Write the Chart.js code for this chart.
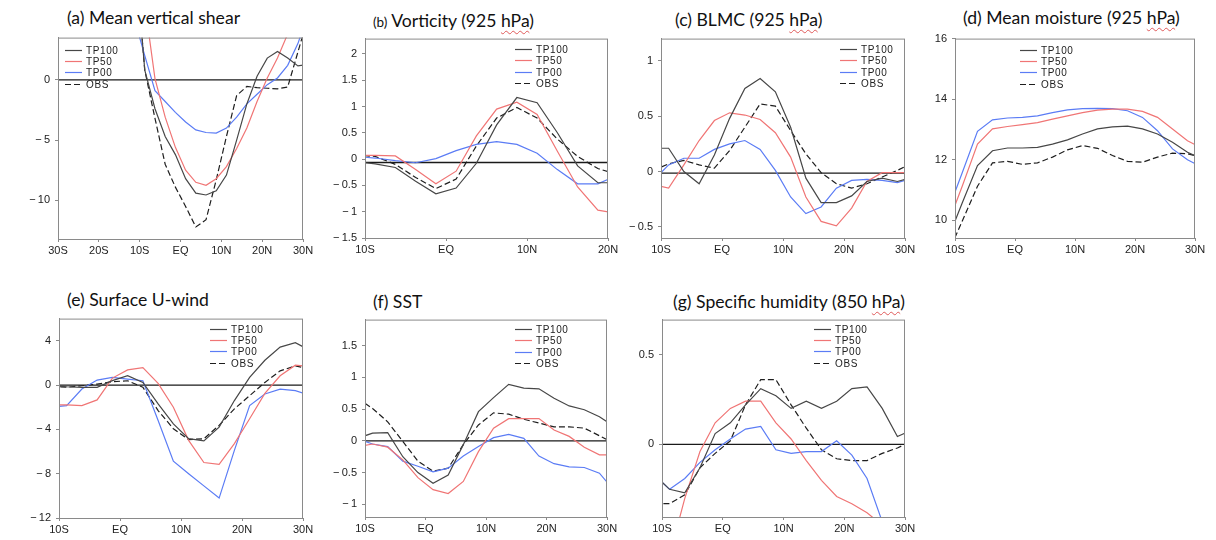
<!DOCTYPE html>
<html>
<head>
<meta charset="utf-8">
<title>Composite latitude profiles</title>
<script src="https://cdn.jsdelivr.net/npm/chart.js@4.4.1/dist/chart.umd.min.js"></script>
<style>
  body { margin:0; background:#fff; width:1216px; height:540px; position:relative; overflow:hidden; }
  canvas { position:absolute; }
  .ttl { position:absolute; font-family:Lato, 'Open Sans', sans-serif; font-size:17.6px; line-height:20px; color:#111; white-space:nowrap; }
  .ttl small { font-size:13.5px; }
  .sp { text-decoration:underline wavy #e05a5a; text-decoration-thickness:1px; text-underline-offset:3px; }
</style>
</head>
<body>
<div class="ttl" style="left:67px;top:8px">(a) Mean vertical shear</div>
<div class="ttl" style="left:373px;top:11px"><small>(b)</small> Vorticity (925 <span class="sp">hPa</span>)</div>
<div class="ttl" style="left:675px;top:10px">(c) BLMC (925 <span class="sp">hPa</span>)</div>
<div class="ttl" style="left:963px;top:8px">(d) Mean moisture (925 <span class="sp">hPa</span>)</div>
<div class="ttl" style="left:67px;top:290px">(e) Surface U-wind</div>
<div class="ttl" style="left:373px;top:292px">(f) SST</div>
<div class="ttl" style="left:673px;top:292px">(g) Specific humidity (850 <span class="sp">hPa</span>)</div>

<canvas id="pa"></canvas>
<canvas id="pb"></canvas>
<canvas id="pc"></canvas>
<canvas id="pd"></canvas>
<canvas id="pe"></canvas>
<canvas id="pf"></canvas>
<canvas id="pg"></canvas>

<script>
// latitude of each grid point (2.5 deg bins), one bin past each edge so lines run to the frame
const lat = [-11.25, -8.75, -6.25, -3.75, -1.25, 1.25, 3.75, 6.25, 8.75, 11.25, 13.75, 16.25, 18.75, 21.25, 23.75, 26.25, 28.75, 31.25];
const seriesNames = ['TP100', 'TP50', 'TP00', 'OBS'];

const xTicksWide = [-30, -20, -10, 0, 10, 20, 30];
const xLabelsWide = ['30S', '20S', '10S', 'EQ', '10N', '20N', '30N'];
const xTicksShort = [-10, 0, 10, 20];
const xLabelsShort = ['10S', 'EQ', '10N', '20N'];
const xTicks = [-10, 0, 10, 20, 30];
const xLabels = ['10S', 'EQ', '10N', '20N', '30N'];

// (a) mean vertical shear
const shear100 = [10.9, 0.8, -2.4, -4.7, -6.2, -8.2, -9.4, -9.55, -9.2, -7.9, -5.0, -2.0, 0.3, 1.8, 2.35, 1.8, 1.15, 1.3];
const shear50 = [14.0, 6.3, 0.1, -3.1, -5.6, -7.5, -8.5, -8.75, -8.2, -7.2, -5.7, -4.0, -1.8, 0.15, 1.8, 3.8, 6.0, 8.0];
const shear00 = [5.0, 2.0, -0.9, -1.8, -2.7, -3.5, -4.15, -4.37, -4.42, -4.0, -3.1, -2.0, -1.2, -0.4, 0.15, 1.2, 3.0, 5.5];
const shearObs = [10.9, 0.8, -3.2, -7.0, -8.9, -10.5, -12.2, -11.6, -8.3, -4.7, -1.3, -0.55, -0.65, -0.7, -0.75, -0.6, 2.3, 5.2];

// (b) vorticity 925 hPa (10S-20N)
const vort100 = [-0.05, -0.09, -0.16, -0.42, -0.66, -0.55, -0.08, 0.65, 1.17, 1.07, 0.5, -0.13, -0.45, -0.45];
const vort50 = [0.07, 0.07, 0.06, -0.2, -0.47, -0.23, 0.44, 0.95, 1.08, 0.85, 0.15, -0.53, -0.97, -1.04];
const vort00 = [0.05, 0.02, -0.03, -0.07, 0.01, 0.16, 0.28, 0.33, 0.28, 0.11, -0.2, -0.47, -0.47, -0.3];
const vortObs = [0.08, 0.05, -0.1, -0.35, -0.56, -0.38, 0.25, 0.78, 0.98, 0.78, 0.38, 0.05, -0.18, -0.3];

// (c) BLMC 925 hPa
const blmc100 = [0.21, 0.21, 0.0, -0.11, 0.15, 0.48, 0.75, 0.84, 0.72, 0.4, -0.06, -0.28, -0.28, -0.22, -0.09, -0.06, -0.09, -0.05];
const blmc50 = [-0.12, -0.15, 0.06, 0.28, 0.46, 0.53, 0.51, 0.47, 0.35, 0.13, -0.23, -0.45, -0.49, -0.33, -0.09, -0.01, -0.01, -0.01];
const blmc00 = [-0.08, 0.06, 0.12, 0.12, 0.2, 0.25, 0.28, 0.2, 0.01, -0.23, -0.38, -0.32, -0.15, -0.08, -0.07, -0.08, -0.1, -0.06];
const blmcObs = [0.01, 0.07, 0.1, 0.06, 0.03, 0.19, 0.4, 0.61, 0.59, 0.37, 0.16, -0.01, -0.11, -0.15, -0.11, -0.05, 0.01, 0.08];

// (d) mean moisture 925 hPa
const moist100 = [9.35, 10.6, 11.81, 12.3, 12.39, 12.39, 12.41, 12.52, 12.66, 12.85, 13.02, 13.09, 13.11, 13.02, 12.85, 12.58, 12.25, 12.03];
const moist50 = [9.85, 11.15, 12.52, 13.02, 13.1, 13.16, 13.23, 13.34, 13.45, 13.56, 13.64, 13.67, 13.67, 13.6, 13.4, 13.02, 12.63, 12.37];
const moist00 = [10.28, 11.6, 12.94, 13.32, 13.38, 13.4, 13.45, 13.56, 13.65, 13.69, 13.7, 13.69, 13.62, 13.4, 12.96, 12.36, 12.0, 11.75];
const moistObs = [8.88, 10.0, 11.13, 11.9, 11.95, 11.85, 11.9, 12.09, 12.33, 12.47, 12.38, 12.14, 11.95, 11.92, 12.09, 12.22, 12.2, 12.08];

// (e) surface u-wind
const uwnd100 = [-0.05, -0.15, -0.2, -0.2, 0.4, 0.84, 0.24, -1.7, -3.5, -4.84, -5.04, -3.8, -1.4, 0.69, 2.24, 3.43, 3.82, 3.1];
const uwnd50 = [-1.79, -1.79, -1.85, -1.34, 0.63, 1.37, 1.58, 0.15, -2.0, -4.99, -6.99, -7.16, -5.28, -3.04, -0.75, 0.84, 1.79, 1.67];
const uwnd00 = [-2.0, -1.85, -0.36, 0.45, 0.69, 0.54, 0.39, -3.2, -6.87, -8.0, -9.1, -10.2, -5.9, -1.85, -0.8, -0.36, -0.5, -0.94];
const uwndObs = [-0.12, -0.2, -0.06, 0.09, 0.3, 0.39, -0.2, -2.3, -3.94, -4.93, -4.84, -3.64, -2.15, -0.96, 0.24, 1.28, 1.73, 1.43];

// (f) SST
const sst100 = [0.04, 0.12, 0.13, -0.25, -0.5, -0.67, -0.54, -0.06, 0.46, 0.68, 0.89, 0.83, 0.82, 0.67, 0.55, 0.49, 0.38, 0.22];
const sst50 = [-0.09, -0.05, -0.1, -0.3, -0.58, -0.77, -0.83, -0.64, -0.17, 0.2, 0.35, 0.35, 0.35, 0.17, 0.07, -0.1, -0.22, -0.22];
const sst00 = [0.03, -0.05, -0.09, -0.32, -0.4, -0.49, -0.43, -0.24, -0.09, 0.05, 0.1, 0.04, -0.24, -0.36, -0.41, -0.42, -0.51, -0.79];
const sstObs = [0.67, 0.51, 0.3, -0.01, -0.32, -0.48, -0.43, -0.06, 0.25, 0.44, 0.42, 0.34, 0.28, 0.22, 0.22, 0.2, 0.08, -0.04];

// (g) specific humidity 850 hPa
const shum100 = [-0.17, -0.25, -0.27, -0.13, 0.06, 0.12, 0.22, 0.31, 0.27, 0.2, 0.24, 0.2, 0.24, 0.31, 0.32, 0.2, 0.044, 0.08];
const shum50 = [-0.85, -0.62, -0.3, -0.04, 0.12, 0.2, 0.24, 0.24, 0.12, 0.03, -0.09, -0.2, -0.29, -0.33, -0.38, -0.45, -0.52, -0.6];
const shum00 = [-0.17, -0.25, -0.19, -0.1, -0.03, 0.03, 0.085, 0.1, -0.03, -0.05, -0.04, -0.04, 0.02, -0.06, -0.19, -0.43, -0.6, -0.7];
const shumObs = [-0.33, -0.33, -0.28, -0.13, -0.05, 0.02, 0.22, 0.36, 0.36, 0.22, 0.09, -0.03, -0.08, -0.09, -0.09, -0.05, -0.02, 0.02];

const lineColors = ['#474747', '#f07575', '#5b7cf5', '#1e1e1e'];
const lineDash = [[], [], [], [6, 3]];

// plot box = [left, top, width, height] of the framed area on the page
const panels = [
  { id: 'pa', box: [58, 36, 245, 203], x: [-30, 30], y: [-13.2, 3.5], step: 5, ticks: xTicksWide, labels: xLabelsWide, zero: 0, leg: [7, 12], data: [shear100, shear50, shear00, shearObs] },
  { id: 'pb', box: [365, 37, 243, 201], x: [-10, 20], y: [-1.5, 2.29], step: 0.5, ticks: xTicksShort, labels: xLabelsShort, zero: -0.065, leg: [150, 10.5], data: [vort100, vort50, vort00, vortObs] },
  { id: 'pc', box: [661, 37, 244, 201], x: [-10, 30], y: [-0.6, 1.2], step: 0.5, ticks: xTicks, labels: xLabels, zero: -0.015, leg: [179, 10.5], data: [blmc100, blmc50, blmc00, blmcObs] },
  { id: 'pd', box: [955, 37, 240, 201], x: [-10, 30], y: [9.42, 16], step: 2, ticks: xTicks, labels: xLabels, zero: null, leg: [65, 11], data: [moist100, moist50, moist00, moistObs] },
  { id: 'pe', box: [59, 317, 244, 201], x: [-10, 30], y: [-12, 6], step: 4, ticks: xTicks, labels: xLabels, zero: 0, leg: [151, 10], data: [uwnd100, uwnd50, uwnd00, uwndObs] },
  { id: 'pf', box: [365, 318, 242, 199], x: [-10, 30], y: [-1.2, 1.91], step: 0.5, ticks: xTicks, labels: xLabels, zero: 0, leg: [150, 9.5], data: [sst100, sst50, sst00, sstObs] },
  { id: 'pg', box: [662, 318, 243, 199], x: [-10, 30], y: [-0.404, 0.694], step: 0.5, ticks: xTicks, labels: xLabels, zero: 0, leg: [152, 9], data: [shum100, shum50, shum00, shumObs] }
];

const PAD_L = 45, PAD_T = 10, PAD_R = 20, PAD_B = 24;

// zero line, frame and the small in-plot legend
const panelDeco = {
  id: 'panelDeco',
  beforeDatasetsDraw(chart, args, opts) {
    if (opts.zero === null || opts.zero === undefined) return;
    const { ctx, chartArea: a } = chart;
    const y = chart.scales.y.getPixelForValue(opts.zero);
    ctx.save();
    ctx.strokeStyle = '#1a1a1a';
    ctx.lineWidth = 1.3;
    ctx.beginPath(); ctx.moveTo(a.left, y); ctx.lineTo(a.right, y); ctx.stroke();
    ctx.restore();
  },
  afterDatasetsDraw(chart, args, opts) {
    const { ctx, chartArea: a } = chart;
    ctx.save();
    ctx.strokeStyle = '#8a8a8a';
    ctx.lineWidth = 1;
    ctx.strokeRect(a.left + 0.5, a.top + 0.5, a.right - a.left - 1, a.bottom - a.top);
    ctx.font = '10px "Liberation Sans", Arial, sans-serif';
    if ('letterSpacing' in ctx) ctx.letterSpacing = '0.6px';
    ctx.textBaseline = 'middle';
    chart.data.datasets.forEach((ds, i) => {
      const x0 = a.left + opts.leg[0];
      const y0 = Math.round(a.top + opts.leg[1] + i * 11.3) + 0.5;
      ctx.strokeStyle = ds.borderColor;
      ctx.lineWidth = 1.2;
      ctx.setLineDash(ds.borderDash);
      ctx.beginPath(); ctx.moveTo(x0, y0); ctx.lineTo(x0 + 17, y0); ctx.stroke();
      ctx.fillStyle = '#222';
      ctx.fillText(ds.label, x0 + 21, y0 + 0.5);
    });
    ctx.restore();
  }
};

function minusFmt(v) {
  return v < 0 ? '\u2212\u2009' + Math.abs(v) : String(v);
}

panels.forEach(p => {
  const cv = document.getElementById(p.id);
  const [l, t, w, h] = p.box;
  cv.width = w + PAD_L + PAD_R;
  cv.height = h + PAD_T + PAD_B;
  cv.style.left = (l - PAD_L) + 'px';
  cv.style.top = (t - PAD_T) + 'px';

  const datasets = p.data.map((vals, i) => ({
    label: seriesNames[i],
    data: vals.map((v, j) => ({ x: lat[j], y: v })),
    borderColor: lineColors[i],
    borderDash: lineDash[i],
    borderWidth: 1.2,
    pointRadius: 0,
    tension: 0,
    fill: false
  }));

  const tickFont = { family: '"Liberation Sans", Arial, sans-serif', size: 11 };

  new Chart(cv, {
    type: 'line',
    data: { datasets: datasets },
    options: {
      responsive: false,
      animation: false,
      events: [],
      layout: { padding: { top: PAD_T, right: PAD_R, left: 0, bottom: 0 } },
      plugins: {
        legend: { display: false },
        tooltip: { enabled: false },
        panelDeco: { zero: p.zero, leg: p.leg }
      },
      scales: {
        x: {
          type: 'linear',
          min: p.x[0], max: p.x[1],
          grid: { drawOnChartArea: false, drawTicks: true, tickLength: 3, color: '#8a8a8a' },
          border: { display: true, color: '#8a8a8a' },
          afterBuildTicks: s => { s.ticks = p.ticks.map(v => ({ value: v })); },
          afterFit: s => { s.height = PAD_B; },
          ticks: {
            autoSkip: false, maxRotation: 0, padding: 2, color: '#222', font: tickFont,
            callback: v => p.labels[p.ticks.indexOf(v)]
          }
        },
        y: {
          min: p.y[0], max: p.y[1],
          grid: { drawOnChartArea: false, drawTicks: true, tickLength: 3, color: '#8a8a8a' },
          border: { display: true, color: '#8a8a8a' },
          afterFit: s => { s.width = PAD_L; },
          ticks: {
            stepSize: p.step, includeBounds: false, padding: 5, color: '#222', font: tickFont,
            callback: v => minusFmt(v)
          }
        }
      }
    },
    plugins: [panelDeco]
  });
});
</script>
</body>
</html>
